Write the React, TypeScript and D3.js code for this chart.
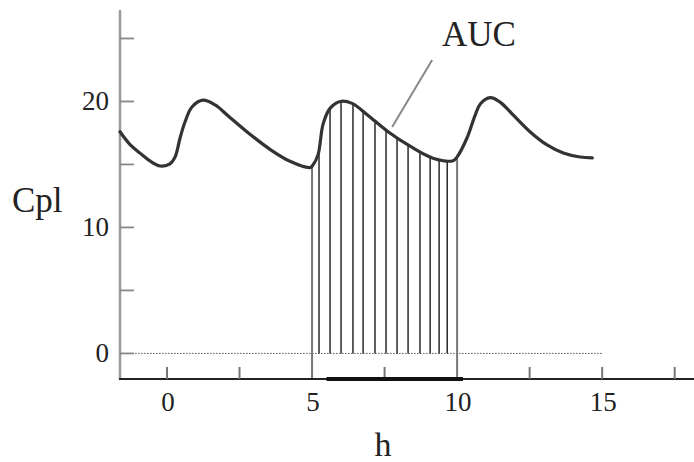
import { useRef, useEffect } from 'react';
import * as d3 from 'd3';

// plasma concentration (Cpl), by hour
const HOURS = [-1.62, -1.28, -0.93, -0.59, -0.24, 0.1, 0.28, 0.45, 0.62, 0.86, 1.24, 1.66, 2.07, 2.86, 3.55, 4.24, 4.93, 5.03, 5.21, 5.38, 5.62, 5.97, 6.38, 6.9, 7.62, 8.38, 9.17, 9.86, 10.0, 10.34, 10.62, 10.8, 11.14, 11.48, 11.93, 12.52, 13.1, 13.66, 14.24, 14.66];
const CPL = [17.6, 16.6, 15.9, 15.28, 14.88, 15.04, 15.6, 17.1, 18.37, 19.56, 20.1, 19.72, 18.93, 17.4, 16.2, 15.25, 14.75, 14.95, 15.8, 18.2, 19.45, 20.0, 19.85, 18.95, 17.6, 16.45, 15.5, 15.3, 15.6, 17.1, 18.9, 19.8, 20.3, 19.95, 18.93, 17.58, 16.55, 15.91, 15.59, 15.52];

// vertical hatching of the AUC area
const HATCH = [5, 5.24, 5.62, 6.0, 6.41, 6.76, 7.17, 7.55, 7.93, 8.31, 8.72, 9.07, 9.38, 9.66, 10];
const AUC_RANGE = [5, 10];
const DOSING = [5.5, 10.2];

const X_TICKS = [0, 5, 10, 15];
const X_MINOR = [2.5, 7.5, 12.5, 17.5];
const Y_TICKS = [0, 5, 10, 15, 20, 25];
const Y_LABELS = [0, 10, 20];

const WIDTH = 694;
const HEIGHT = 462;
const FONT = '"Liberation Serif", "DejaVu Serif", serif';

function cplAt(h: number) {
  const i = d3.bisectLeft(HOURS, h);
  if (i <= 0) return CPL[0];
  if (i >= HOURS.length) return CPL[CPL.length - 1];
  const t = (h - HOURS[i - 1]) / (HOURS[i] - HOURS[i - 1]);
  return CPL[i - 1] + t * (CPL[i] - CPL[i - 1]);
}

export default function App() {
  const svgRef = useRef<SVGSVGElement>(null);

  useEffect(() => {
    if (!svgRef.current) return;
    const svg = d3.select(svgRef.current);
    svg.selectAll('*').remove();

    const x = d3.scaleLinear().domain([-1.62, 18.2]).range([120, 695]);
    const y = d3.scaleLinear().domain([-2.03, 27.26]).range([379, 10]);

    // dotted zero line
    svg.append('line')
      .attr('x1', x(-1.1)).attr('x2', x(15))
      .attr('y1', y(0)).attr('y2', y(0))
      .attr('stroke', '#555').attr('stroke-width', 1)
      .attr('stroke-dasharray', '1.5,1.5');

    // hatching
    svg.append('g').selectAll('line')
      .data(HATCH)
      .join('line')
      .attr('x1', d => x(d)).attr('x2', d => x(d))
      .attr('y1', d => (AUC_RANGE.includes(d) ? y(-2.03) : y(0)))
      .attr('y2', d => y(cplAt(d)))
      .attr('stroke', d => (AUC_RANGE.includes(d) ? '#777' : '#2a2a2a'))
      .attr('stroke-width', d => (AUC_RANGE.includes(d) ? 2 : 1.5));

    // y axis
    svg.append('line')
      .attr('x1', 120).attr('x2', 120)
      .attr('y1', y(27.26)).attr('y2', y(-2.03))
      .attr('stroke', '#999').attr('stroke-width', 2.5);
    svg.append('g').selectAll('line')
      .data(Y_TICKS)
      .join('line')
      .attr('x1', 120).attr('x2', 134)
      .attr('y1', d => y(d)).attr('y2', d => y(d))
      .attr('stroke', '#888').attr('stroke-width', 1.8);
    svg.append('g').selectAll('text')
      .data(Y_LABELS)
      .join('text')
      .attr('x', 109)
      .attr('y', d => y(d) + 9)
      .attr('text-anchor', 'end')
      .attr('font-family', FONT)
      .attr('font-size', 27)
      .attr('fill', '#222')
      .text(d => d);

    // x axis
    svg.append('line')
      .attr('x1', 119).attr('x2', WIDTH)
      .attr('y1', y(-2.03)).attr('y2', y(-2.03))
      .attr('stroke', '#222').attr('stroke-width', 2.2);
    svg.append('g').selectAll('line')
      .data([...X_TICKS.filter(d => !AUC_RANGE.includes(d)), ...X_MINOR])
      .join('line')
      .attr('x1', d => x(d)).attr('x2', d => x(d))
      .attr('y1', y(-2.03)).attr('y2', y(-2.03) - 12)
      .attr('stroke', '#777').attr('stroke-width', 2);
    svg.append('line')
      .attr('x1', x(DOSING[0])).attr('x2', x(DOSING[1]))
      .attr('y1', y(-2.03)).attr('y2', y(-2.03))
      .attr('stroke', '#111').attr('stroke-width', 4);
    svg.append('g').selectAll('text')
      .data(X_TICKS)
      .join('text')
      .attr('x', d => x(d) + 1)
      .attr('y', 411)
      .attr('text-anchor', 'middle')
      .attr('font-family', FONT)
      .attr('font-size', 27)
      .attr('fill', '#222')
      .text(d => d);

    // concentration curve
    const line = d3.line<number>()
      .x((_, i) => x(HOURS[i]))
      .y(d => y(d))
      .curve(d3.curveCatmullRom.alpha(0.5));
    svg.append('path')
      .datum(CPL)
      .attr('d', line)
      .attr('fill', 'none')
      .attr('stroke', '#333')
      .attr('stroke-width', 3.2)
      .attr('stroke-linejoin', 'round')
      .attr('stroke-linecap', 'round');

    // AUC annotation
    svg.append('line')
      .attr('x1', x(9.14)).attr('y1', y(23.3))
      .attr('x2', x(7.76)).attr('y2', y(17.98))
      .attr('stroke', '#888').attr('stroke-width', 2);
    svg.append('text')
      .attr('x', 479).attr('y', 46)
      .attr('text-anchor', 'middle')
      .attr('font-family', FONT)
      .attr('font-size', 35)
      .attr('fill', '#222')
      .text('AUC');

    // axis titles
    svg.append('text')
      .attr('x', 12).attr('y', 212)
      .attr('font-family', FONT)
      .attr('font-size', 35)
      .attr('fill', '#222')
      .text('Cpl');
    svg.append('text')
      .attr('x', 383).attr('y', 456)
      .attr('text-anchor', 'middle')
      .attr('font-family', FONT)
      .attr('font-size', 34)
      .attr('fill', '#222')
      .text('h');
  }, []);

  return (
    <svg
      ref={svgRef}
      width={WIDTH}
      height={HEIGHT}
      style={{ position: 'absolute', left: 0, top: 0, background: '#fff' }}
    />
  );
}
